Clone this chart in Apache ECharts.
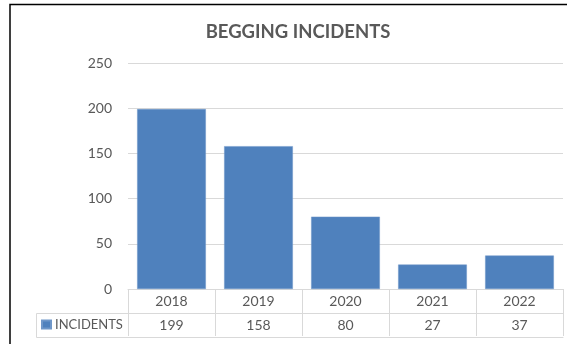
<!DOCTYPE html>
<html>
<head>
<meta charset="utf-8">
<script src="https://cdn.jsdelivr.net/npm/echarts@6/dist/echarts.min.js"></script>
<style>
  html, body { margin: 0; padding: 0; background: #fff; }
  #chart { width: 567px; height: 344px; }
</style>
</head>
<body>
<div id="chart"></div>
<script>
// Yearly begging incidents
const years = ['2018', '2019', '2020', '2021', '2022'];
const incidents = [199, 158, 80, 27, 37];
const seriesName = 'INCIDENTS';
const yTicks = [0, 50, 100, 150, 200, 250];

const FONT = 'Lato';
const TEXT = '#595959';
const RULE = '#d9d9d9';
const BAR = '#4f81bd';

const chart = echarts.init(document.getElementById('chart'), null, { renderer: 'canvas' });

const option = {
  animation: false,
  backgroundColor: '#fff',
  textStyle: { fontFamily: FONT },
  title: {
    text: 'BEGGING INCIDENTS',
    left: 293,
    top: 18,
    textAlign: 'center',
    textStyle: { fontFamily: FONT, fontSize: 18.5, fontWeight: 'bold', color: TEXT }
  },
  legend: {
    data: [seriesName],
    left: 41,
    top: 318,
    itemWidth: 9,
    itemHeight: 8,
    itemGap: 0,
    padding: 0,
    icon: 'rect',
    textStyle: { fontFamily: FONT, fontSize: 13, color: TEXT, padding: [0, 0, 0, -1] }
  },
  grid: { left: 128, right: 4, top: 63, bottom: 55 },
  xAxis: [
    {
      // year row of the data table; ticks form the column rules
      type: 'category',
      data: years,
      position: 'bottom',
      axisLine: { show: true, lineStyle: { color: RULE, width: 1 } },
      axisTick: { show: true, length: 47, lineStyle: { color: RULE } },
      axisLabel: { color: TEXT, fontSize: 14, fontFamily: FONT, margin: 5 }
    },
    {
      // value row of the data table
      type: 'category',
      data: years,
      position: 'bottom',
      offset: 24,
      axisLine: { show: true, lineStyle: { color: RULE, width: 1 } },
      axisTick: { show: false },
      axisLabel: {
        color: TEXT, fontSize: 14, fontFamily: FONT, margin: 5,
        formatter: (v, i) => String(incidents[i])
      }
    },
    {
      // bottom rule of the data table
      type: 'category',
      data: years,
      position: 'bottom',
      offset: 48,
      axisLine: { show: true, lineStyle: { color: RULE, width: 1 } },
      axisTick: { show: false },
      axisLabel: { show: false }
    }
  ],
  yAxis: {
    type: 'value',
    min: yTicks[0],
    max: yTicks[yTicks.length - 1],
    interval: yTicks[1] - yTicks[0],
    axisLine: { show: false },
    axisTick: { show: false },
    splitLine: { lineStyle: { color: RULE, width: 1 } },
    axisLabel: { color: TEXT, fontSize: 14, fontFamily: FONT, margin: 16 }
  },
  series: [{
    name: seriesName,
    type: 'bar',
    data: incidents,
    barCategoryGap: '21%',
    itemStyle: { color: BAR, borderColor: '#6f97c9', borderWidth: 0.5 }
  }],
  graphic: [
    // outer frame (top and left edges)
    { type: 'polyline', shape: { points: [[10, 344], [10, 4.5], [567, 4.5]] },
      style: { stroke: '#000', lineWidth: 1.5, fill: null }, silent: true },
    // legend cell of the data table
    { type: 'polyline', shape: { points: [[128, 313.5], [36.5, 313.5], [36.5, 337.5], [128, 337.5]] },
      style: { stroke: RULE, lineWidth: 1, fill: null }, silent: true }
  ]
};

chart.setOption(option);
</script>
</body>
</html>
